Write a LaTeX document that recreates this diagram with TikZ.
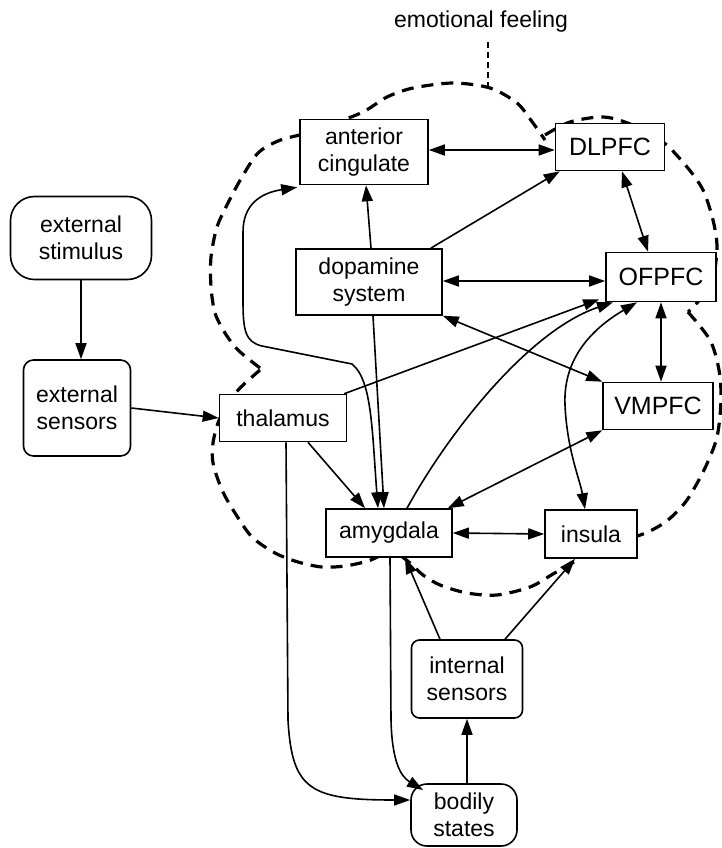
\documentclass[tikz,border=0pt]{standalone}
\usepackage{fontspec}
\setmainfont{Liberation Sans}
\usetikzlibrary{arrows.meta,calc}
\begin{document}
\begin{tikzpicture}[x=1pt,y=-1pt,
  box/.style={draw, line width=1.6pt, fill=white, align=center, inner sep=0pt,
    font=\fontsize{23}{27}\selectfont},
  capbox/.style={box, font=\fontsize{25}{29}\selectfont},
  rbox/.style={box, rounded corners=10pt},
  arr/.style={line width=1.6pt, -{Triangle[length=16pt,width=11pt]}},
  darr/.style={line width=1.6pt, {Triangle[length=16pt,width=11pt]}-{Triangle[length=16pt,width=11pt]}},
  bound/.style={line width=3.2pt, dash pattern=on 12pt off 8pt},
  lead/.style={line width=1.1pt, dash pattern=on 6pt off 4pt}]
\useasboundingbox (0,0) rectangle (722,848);

% dashed boundary of emotional feeling
\draw[bound] plot[smooth] coordinates {(330,125) (363,112) (387,97) (413,88) (453,83) (490,88) (517,103) (533,123) (545,140)};
\draw[bound] plot[smooth] coordinates {(545,135) (570,122) (603,117) (630,124) (663,142) (687,167) (703,190) (713,220) (717,247) (713,278) (702,297) (688,312)};
\draw[bound] plot[smooth] coordinates {(688,312) (710,340) (719,370) (721,400) (717,437) (705,468) (687,500) (668,520) (648,532) (625,540) (600,548)};
\draw[bound] plot[smooth] coordinates {(590,550) (577,560) (553,574) (530,587) (497,595) (467,593) (440,585) (423,575) (410,563) (400,555)};
\draw[bound] plot[smooth] coordinates {(400,550) (382,555) (368,561) (345,566) (322,567) (298,562) (275,553) (252,537) (235,513) (222,490) (213,463) (213,443) (218,423) (227,405) (240,388) (260,370)};
\draw[bound] plot[smooth] coordinates {(260,368) (238,350) (225,333) (215,313) (211,287) (211,257) (217,227) (228,203) (242,177) (258,153) (278,141) (300,135) (320,132)};

% label
\node[font=\fontsize{23}{27}\selectfont] (ef) at (481,22) {emotional feeling};
\coordinate (efend) at (488,86);
\draw[lead] (ef.south -| efend) ++(0,6) -- (efend);

% nodes
\node[box, minimum width=128pt, minimum height=65pt] (ac) at (364,152) {anterior\\cingulate};
\node[capbox, minimum width=109pt, minimum height=47pt] (dl) at (610,147) {DLPFC};
\node[box, minimum width=146pt, minimum height=66pt] (dop) at (369,282) {dopamine\\system};
\node[capbox, minimum width=110pt, minimum height=49pt] (of) at (661,277) {OFPFC};
\node[capbox, minimum width=110pt, minimum height=47pt] (vm) at (658,406) {VMPFC};
\node[box, minimum width=127pt, minimum height=47pt] (th) at (283,418) {thalamus};
\node[box, minimum width=126pt, minimum height=48pt] (am) at (389,533) {amygdala};
\node[box, minimum width=92pt, minimum height=48pt] (ins) at (591,534) {insula};
\node[box, rounded corners=24pt, minimum width=141pt, minimum height=83pt] (es) at (81,238) {external\\stimulus};
\node[rbox, minimum width=107pt, minimum height=96pt] (esn) at (77,408) {external\\sensors};
\node[rbox, rounded corners=8pt, minimum width=111pt, minimum height=78pt] (isn) at (467,679) {internal\\sensors};
\node[box, rounded corners=16pt, minimum width=106pt, minimum height=62pt] (bs) at (464,815) {bodily\\states};

% connectors
\draw[arr] (es.south) -- (es.south |- esn.north);
\draw[arr] (esn.east) -- (th.west);
\draw[darr] (ac.east |- 0,150) -- (dl.west |- 0,150);
\draw[arr] ([xshift=2pt]dop.north) -- ([xshift=2pt]ac.south);
\draw[arr] ([xshift=-12pt]dop.north east) -- ([xshift=5pt]dl.south west);
\draw[darr] (dop.east |- 0,281) -- (of.west |- 0,281);
\draw[darr] ([xshift=12pt]dl.south) -- ([xshift=-13pt]of.north);
\draw[darr] (of.south) -- (of.south |- vm.north);
\draw[darr] (dop.south east) -- (vm.north west);
\draw[arr] ([xshift=-3pt]th.north east) -- ([xshift=-6pt,yshift=3pt]of.south west);
\draw[arr] ([xshift=18pt]am.north) .. controls (450,430) and (530,330) .. ([xshift=-48pt]of.south);
\draw[darr] ([xshift=-24pt]of.south) .. controls (590,330) and (563,360) .. (565,405)
   .. controls (567,450) and (580,480) .. ([xshift=-6pt]ins.north);
\draw[darr] (vm.south west) -- ([xshift=-5pt]am.north east);
\draw[arr] ([xshift=25pt]th.south) -- ([xshift=-24pt]am.north);
\draw[arr] ([xshift=4pt]dop.south) -- ([xshift=-5pt]am.north);
\draw[darr] ([xshift=-11pt]am.north) .. controls (372,430) and (372,380) .. (352,364)
   -- (262,346) .. controls (245,342) and (243,330) .. (243,300)
   -- (243,232) .. controls (243,205) and (260,193) .. ([xshift=-2pt,yshift=-2pt]ac.south west);
\draw[darr] (am.east) -- (ins.west);
\draw[arr] ([xshift=-27pt]isn.north) -- ([xshift=16pt]am.south);
\draw[arr] ([xshift=38pt]isn.north) -- ([xshift=-16pt]ins.south);
\draw[arr] (bs.north -| isn.south) -- (isn.south);
\draw[arr] ([xshift=3pt]th.south) -- (288,720) .. controls (292,790) and (310,800) .. (bs.west |- 0,800);
\draw[arr] ([xshift=1pt]am.south) -- (391,720) .. controls (392,760) and (400,776) .. (423,790);
\end{tikzpicture}
\end{document}
